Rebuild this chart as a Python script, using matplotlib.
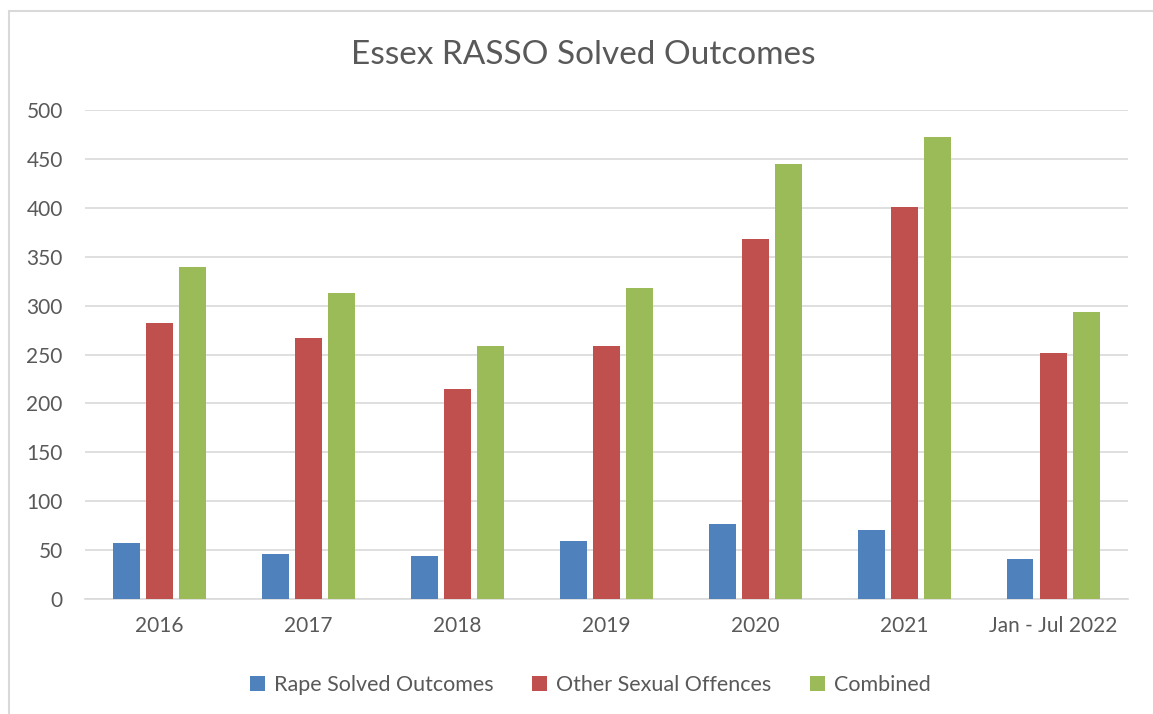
import numpy as np
import matplotlib
matplotlib.use("Agg")
import matplotlib.pyplot as plt
from matplotlib.patches import Rectangle

plt.rcParams['font.family'] = ['Lato', 'DejaVu Sans']

categories = ["2016", "2017", "2018", "2019", "2020", "2021", "Jan - Jul 2022"]
rape = [57, 46, 44, 59, 77, 71, 41]
other = [282, 267, 215, 259, 368, 401, 252]
combined = [339, 313, 259, 318, 445, 472, 293]

series_names = ["Rape Solved Outcomes", "Other Sexual Offences", "Combined"]
colors = ["#4F81BD", "#C0504D", "#9BBB59"]
TEXT = "#595959"

fig = plt.figure(figsize=(11.53, 7.14), dpi=100)
ax = fig.add_axes([0.0737, 0.161, 0.9043, 0.685])

x = np.arange(len(categories))
width = 0.18
step = 0.222
for i, (vals, name, col) in enumerate(zip([rape, other, combined], series_names, colors)):
    ax.bar(x + (i - 1) * step, vals, width, color=col, label=name, zorder=3)

ax.set_xlim(-0.5, len(categories) - 0.5)
ax.set_ylim(0, 500)
ax.set_yticks(range(0, 501, 50))
ax.yaxis.grid(True, color="#D9D9D9", linewidth=1.2, zorder=0)
ax.set_xticks(x)
ax.set_xticklabels(categories)
ax.tick_params(axis="both", length=0, labelsize=15, colors=TEXT)
ax.tick_params(axis="x", pad=12)
ax.tick_params(axis="y", pad=16)
for s in ["top", "right", "left"]:
    ax.spines[s].set_visible(False)
ax.spines["bottom"].set_color("#D9D9D9")
ax.spines["bottom"].set_linewidth(1.2)

fig.text(0.506, 0.923, "Essex RASSO Solved Outcomes", ha="center", va="center",
         fontsize=24, color=TEXT)

leg = fig.legend(loc="center", bbox_to_anchor=(0.512, 0.040), ncol=3, frameon=False,
                 fontsize=15.5, handlelength=0.7, handleheight=0.7, handletextpad=0.4,
                 columnspacing=1.8)
for t in leg.get_texts():
    t.set_color(TEXT)

fig.patches.append(Rectangle((9 / 1153, -0.05), 1.1, 1 - 11 / 714 + 0.05,
                             transform=fig.transFigure, fill=False,
                             edgecolor="#D9D9D9", linewidth=1.5))

fig.savefig("out.png", dpi=100)
